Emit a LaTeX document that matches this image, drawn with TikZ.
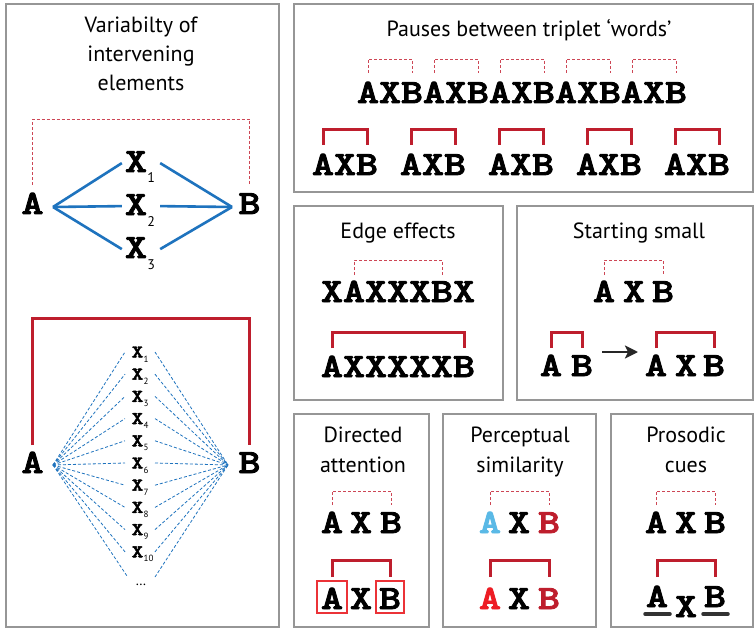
\documentclass[tikz,border=0pt]{standalone}
\usepackage{fontspec}
\usetikzlibrary{calc,arrows.meta}
\setmainfont{PT Sans}
\newfontfamily\cour{lmmonolt10-bold.otf}[FakeStretch=1.23, FakeBold=2.6]
\definecolor{panelgray}{RGB}{150,150,150}
\definecolor{brred}{RGB}{190,30,45}
\definecolor{dashred}{RGB}{205,70,85}
\definecolor{blueln}{RGB}{30,115,190}
\definecolor{lightbl}{RGB}{90,185,230}
\definecolor{brightred}{RGB}{237,28,36}
\definecolor{boxred}{RGB}{235,50,55}
\definecolor{ulgray}{RGB}{50,50,50}
\newcommand\mybrk[5]{\draw[#1] ($(#2.base)+(0,#4)$) -- ++(0,#5) -| ($(#3.base)+(0,#4)$);}
\begin{document}
\begin{tikzpicture}[x=1pt,y=-1pt,
  panel/.style={draw=panelgray, line width=1.2pt},
  title/.style={anchor=base, inner sep=0pt, font=\fontsize{22}{22}\selectfont},
  big/.style={anchor=base, inner sep=0pt, font=\cour\fontsize{34}{34}\selectfont},
  smallx/.style={anchor=center, inner sep=0pt, font=\cour\fontsize{18}{18}\selectfont},
  subs/.style={anchor=base west, inner sep=0pt, font=\fontsize{14}{14}\selectfont},
  ssubs/.style={anchor=base west, inner sep=0pt, font=\fontsize{9}{9}\selectfont},
  brk/.style={draw=brred, line width=3pt},
  dbrk/.style={draw=dashred, line width=0.9pt, dash pattern=on 3pt off 2pt},
  bl/.style={draw=blueln, line width=2.6pt},
  dbl/.style={draw=blueln, line width=0.8pt, dash pattern=on 3pt off 2pt},
  boxst/.style={draw=boxred, line width=1.1pt},
  arr/.style={draw=black!85, line width=2.8pt, -{Stealth[length=13pt,width=13pt,inset=3pt]}},
  uline/.style={draw=ulgray, line width=3.5pt, line cap=round}]
\useasboundingbox (0,0) rectangle (754,628);
\fill[white] (0,0) rectangle (754,628);
% panels
\draw[panel] (6,4) rectangle (279,627);
\draw[panel] (294,4) rectangle (753,192);
\draw[panel] (294,206) rectangle (503,400);
\draw[panel] (517,206) rectangle (753,400);
\draw[panel] (294,414) rectangle (429,627);
\draw[panel] (443,414) rectangle (596,627);
\draw[panel] (611,414) rectangle (753,627);
% left panel
\node[title] (lt1) at (141,33) {Variabilty of};
\node[title] (lt2) at (141,62) {intervening};
\node[title] (lt3) at (141,91) {elements};
\node[big] (la) at (32.5,214) {A};
\node[big] (lb) at (249.5,214) {B};
\foreach \i/\yb in {1/172,2/215,3/258}{
  \node[big] (lx\i) at (136,\yb) {X};
  \node[subs] (ls\i) at ([yshift=-11pt]lx\i.base east) {\i};
}
\coordinate (lafan) at (53,207);
\coordinate (lbfan) at (232,207);
\foreach \i in {1,2,3}{
  \draw[bl] (lafan) -- ([xshift=-3pt,yshift=-1.5pt]lx\i.west);
  \draw[bl] ([xshift=13pt,yshift=-1.5pt]lx\i.east) -- (lbfan);
}
\mybrk{dbrk}{la}{lb}{-29}{-66}
% left bottom
\node[big] (ma) at (32.5,473) {A};
\node[big] (mb) at (249.5,473) {B};
\mybrk{brk}{ma}{mb}{-28}{-127}
\coordinate (mafan) at (53,465);
\coordinate (mbfan) at (228,465);
\foreach \i in {1,...,10}{
  \pgfmathsetmacro\yy{352+22.2*(\i-1)}
  \node[smallx] (sx\i) at (137.5,\yy) {X};
  \node[ssubs] (ss\i) at ([yshift=-4.5pt]sx\i.base east) {\i};
  \coordinate (lf\i) at (125,\yy);
  \coordinate (rt\i) at (155,\yy);
  \draw[dbl] (mafan) -- (lf\i);
  \draw[dbl] (rt\i) -- (mbfan);
}
\node[anchor=base, inner sep=0pt, font=\fontsize{14}{14}\selectfont] (sdots) at (141,585) {\ldots};
\coordinate (lf11) at (127,576);
\coordinate (rt11) at (155,577);
\draw[dbl] (mafan) -- (lf11);
\draw[dbl] (rt11) -- (mbfan);
% top panel
\node[title] (tt) at (529,37) {Pauses between triplet ‘words’};
\foreach \k/\c in {0/A,1/X,2/B,3/A,4/X,5/B,6/A,7/X,8/B,9/A,10/X,11/B,12/A,13/X,14/B}{
  \node[big] (r\k) at ({368+22*\k},103) {\c};
}
\foreach \j in {0,...,4}{
  \pgfmathtruncatemacro\ka{3*\j}
  \pgfmathtruncatemacro\kb{3*\j+2}
  \mybrk{dbrk}{r\ka}{r\kb}{-30}{-14}
}
\foreach \j in {0,...,4}{
  \node[big] (ga\j) at ({323+88*\j},175) {A};
  \node[big] (gx\j) at ({345+88*\j},175) {X};
  \node[big] (gb\j) at ({367+88*\j},175) {B};
  \mybrk{brk}{ga\j}{gb\j}{-30}{-15}
}
% edge effects
\node[title] (ee) at (398,238) {Edge effects};
\foreach \k/\c in {0/X,1/A,2/X,3/X,4/X,5/B,6/X}{
  \node[big] (ea\k) at ({332+22*\k},302) {\c};
}
\mybrk{dbrk}{ea1}{ea5}{-27}{-15}
\foreach \k/\c in {0/A,1/X,2/X,3/X,4/X,5/X,6/B}{
  \node[big] (eb\k) at ({332+22*\k},377) {\c};
}
\mybrk{brk}{eb0}{eb6}{-29}{-16}
% starting small
\node[title] (st) at (639,238) {Starting small};
\node[big] (s1a) at (604,302) {A};
\node[big] (s1x) at (634,302) {X};
\node[big] (s1b) at (663,302) {B};
\mybrk{dbrk}{s1a}{s1b}{-27}{-15}
\node[big] (s2a) at (551,376) {A};
\node[big] (s2b) at (582,376) {B};
\mybrk{brk}{s2a}{s2b}{-28}{-16}
\node[big] (s3a) at (656,376) {A};
\node[big] (s3x) at (686,376) {X};
\node[big] (s3b) at (714,376) {B};
\mybrk{brk}{s3a}{s3b}{-28}{-16}
\draw[arr] ($(s2b.base)+(20,-24)$) -- ($(s3a.base)+(-18,-24)$);
% directed attention
\node[title] (d1) at (363,442) {Directed};
\node[title] (d2) at (363,472) {attention};
\node[big] (da1) at (332,533) {A};
\node[big] (dx1) at (361,533) {X};
\node[big] (db1) at (391,533) {B};
\mybrk{dbrk}{da1}{db1}{-28}{-14}
\node[big] (da2) at (332,609) {A};
\node[big] (dx2) at (361,609) {X};
\node[big] (db2) at (390,609) {B};
\draw[boxst] ($(da2.base)+(-15,4)$) rectangle ($(da2.base)+(15,-28)$);
\draw[boxst] ($(db2.base)+(-14,4)$) rectangle ($(db2.base)+(14,-28)$);
\mybrk{brk}{da2}{db2}{-32}{-17}
% perceptual similarity
\node[title] (p1) at (520,442) {Perceptual};
\node[title] (p2) at (520,472) {similarity};
\node[big,text=lightbl] (pa1) at (490,533) {A};
\node[big] (px1) at (519,533) {X};
\node[big,text=brred] (pb1) at (549,533) {B};
\mybrk{dbrk}{pa1}{pb1}{-28}{-14}
\node[big,text=brightred] (pa2) at (490,609) {A};
\node[big] (px2) at (519,609) {X};
\node[big,text=brred] (pb2) at (549,609) {B};
\mybrk{brk}{pa2}{pb2}{-32}{-17}
% prosodic cues
\node[title] (q1) at (686,442) {Prosodic};
\node[title] (q2) at (686,472) {cues};
\node[big] (qa1) at (656,533) {A};
\node[big] (qx1) at (686,533) {X};
\node[big] (qb1) at (715,533) {B};
\mybrk{dbrk}{qa1}{qb1}{-28}{-14}
\node[big] (qa2) at (657,607) {A};
\node[big] (qx2) at (686,617) {X};
\node[big] (qb2) at (715,607) {B};
\mybrk{brk}{qa2}{qb2}{-30}{-17}
\draw[uline] ($(qa2.base)+(-12,7)$) -- ($(qa2.base)+(13,7)$);
\draw[uline] ($(qb2.base)+(-12,7)$) -- ($(qb2.base)+(13,7)$);
\end{tikzpicture}
\end{document}
